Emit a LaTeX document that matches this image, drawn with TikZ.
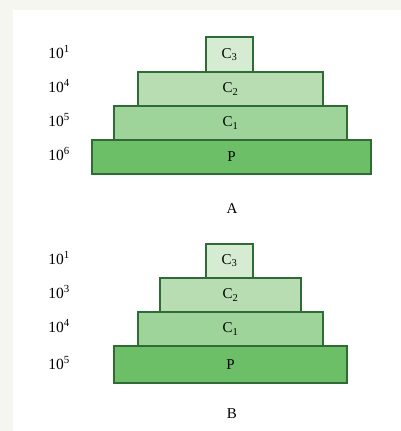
\documentclass[tikz,border=0pt]{standalone}
\usepackage{fontspec}
\setmainfont{Liberation Serif}
\definecolor{bgstrip}{HTML}{F6F6F1}
\definecolor{edge}{HTML}{2E6B35}
\definecolor{fthree}{HTML}{D6ECD2}
\definecolor{ftwo}{HTML}{B9DDB2}
\definecolor{fone}{HTML}{9ED49A}
\definecolor{fp}{HTML}{6CBF66}
\begin{document}
\begin{tikzpicture}[x=1pt,y=-1pt,
  tier/.style={draw=edge,line width=1.1pt,inner sep=0pt,font=\fontsize{15}{17}\selectfont},
  lvl/.style={font=\fontsize{15.5}{17}\selectfont,inner sep=0pt},
  pyrlabel/.style={font=\fontsize{15}{17}\selectfont,inner sep=0pt}]
\useasboundingbox (0,0) rectangle (401,431);
\fill[bgstrip] (0,0) rectangle (401,431);
\fill[white] (13,10) rectangle (401,431);
% Pyramid A
\node[tier,fill=fp,minimum width=279,minimum height=34] (ap) at (231.5,157) {P};
\node[tier,fill=fone,minimum width=233,minimum height=34] (ac1) at (230.5,123) {C\textsubscript{1}};
\node[tier,fill=ftwo,minimum width=185,minimum height=34] (ac2) at (230.5,89) {C\textsubscript{2}};
\node[tier,fill=fthree,minimum width=47,minimum height=35] (ac3) at (229.5,54.5) {C\textsubscript{3}};
\node[lvl] (al1) at (59,52) {10\textsuperscript{1}};
\node[lvl] (al2) at (59,86) {10\textsuperscript{4}};
\node[lvl] (al3) at (59,120) {10\textsuperscript{5}};
\node[lvl] (al4) at (59,154) {10\textsuperscript{6}};
\node[pyrlabel] (capa) at (232,209) {A};
% Pyramid B
\node[tier,fill=fp,minimum width=233,minimum height=37] (bp) at (230.5,364.5) {P};
\node[tier,fill=fone,minimum width=185,minimum height=34] (bc1) at (230.5,329) {C\textsubscript{1}};
\node[tier,fill=ftwo,minimum width=141,minimum height=34] (bc2) at (230.5,295) {C\textsubscript{2}};
\node[tier,fill=fthree,minimum width=47,minimum height=34] (bc3) at (229.5,261) {C\textsubscript{3}};
\node[lvl] (bl1) at (59,258) {10\textsuperscript{1}};
\node[lvl] (bl2) at (59,292) {10\textsuperscript{3}};
\node[lvl] (bl3) at (59,326) {10\textsuperscript{4}};
\node[lvl] (bl4) at (59,363) {10\textsuperscript{5}};
\node[pyrlabel] (capb) at (232,414) {B};
\end{tikzpicture}
\end{document}
